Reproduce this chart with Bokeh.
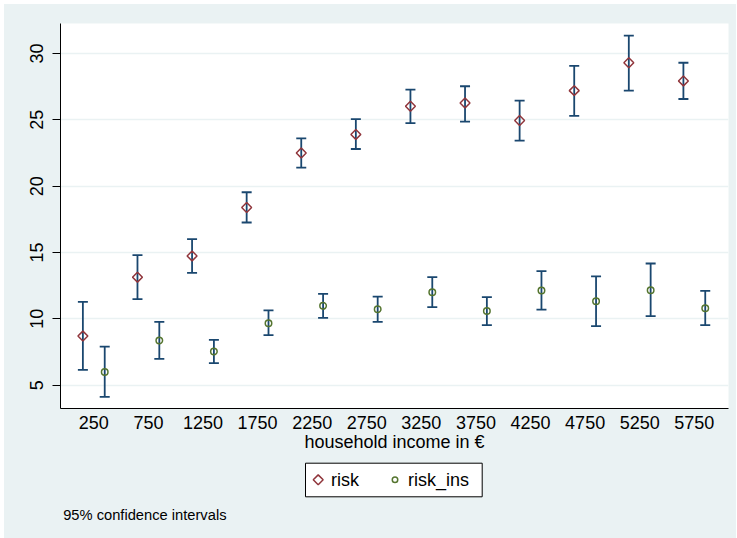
import math
from bokeh.plotting import figure
from bokeh.layouts import column
from bokeh.models import (ColumnDataSource, Range1d, FixedTicker, Legend, LegendItem, Label,
                          BoxAnnotation)
from bokeh.transform import dodge
from bokeh.embed import file_html
from bokeh.resources import INLINE

income = [250, 750, 1250, 1750, 2250, 2750, 3250, 3750, 4250, 4750, 5250, 5750]
risk = [8.7, 13.14, 14.74, 18.39, 22.5, 23.9, 26.02, 26.27, 24.95, 27.2, 29.3, 27.93]
risk_lo = [6.15, 11.48, 13.46, 17.26, 21.4, 22.8, 24.75, 24.87, 23.43, 25.3, 27.2, 26.57]
risk_hi = [11.28, 14.8, 16.0, 19.54, 23.6, 25.05, 27.28, 27.53, 26.45, 29.06, 31.35, 29.3]
risk_ins = [6.0, 8.37, 7.54, 9.67, 10.98, 10.73, 12.0, 10.58, 12.13, 11.33, 12.16, 10.8]
ins_lo = [4.12, 6.98, 6.66, 8.77, 10.07, 9.77, 10.88, 9.52, 10.7, 9.45, 10.2, 9.52]
ins_hi = [7.9, 9.77, 8.41, 10.63, 11.88, 11.68, 13.14, 11.63, 13.59, 13.2, 14.17, 12.1]
y_ticks = [5, 10, 15, 20, 25, 30]

NAVY = "#1a476f"
MAROON = "#90353b"
GREEN = "#55752f"
BG = "#eaf2f3"
FONT = "Liberation Sans"

src = ColumnDataSource(dict(x=income, risk=risk, rlo=risk_lo, rhi=risk_hi,
                            ins=risk_ins, ilo=ins_lo, ihi=ins_hi))

p = figure(width=732, height=456, output_backend="svg", toolbar_location=None,
           x_range=Range1d(-55, 6063), y_range=Range1d(3.24, 32.26),
           min_border_left=56, min_border_right=8, min_border_top=19, min_border_bottom=52)
p.background_fill_color = "white"
p.border_fill_color = BG
p.outline_line_color = None

xr = dodge("x", -100, range=p.x_range)
xi = dodge("x", 100, range=p.x_range)

# error bars
for xs, lo, hi in [(xr, "rlo", "rhi"), (xi, "ilo", "ihi")]:
    p.segment(x0=xs, y0=lo, x1=xs, y1=hi, source=src, line_color=NAVY, line_width=1.8)
    p.scatter(x=xs, y=lo, source=src, marker="dash", size=10, line_color=NAVY, line_width=1.8)
    p.scatter(x=xs, y=hi, source=src, marker="dash", size=10, line_color=NAVY, line_width=1.8)

p.scatter(x=xr, y="risk", source=src, marker="square", angle=math.pi / 4, size=7,
          line_color=MAROON, line_width=1.5, fill_color=None)
p.scatter(x=xi, y="ins", source=src, marker="circle", size=6.5,
          line_color=GREEN, line_width=1.5, fill_color=None)

# axes
p.xaxis.ticker = FixedTicker(ticks=income)
p.yaxis.ticker = FixedTicker(ticks=y_ticks)
p.xgrid.visible = False
p.ygrid.grid_line_color = BG
p.ygrid.grid_line_width = 1.5

for ax in (p.xaxis[0], p.yaxis[0]):
    ax.axis_line_color = "black"
    ax.axis_line_width = 1
    ax.major_label_text_font = FONT
    ax.major_label_text_font_size = "18px"
    ax.major_label_text_color = "black"
    ax.minor_tick_line_color = None
    ax.major_tick_in = 0

p.xaxis.major_tick_out = 0
p.xaxis.major_label_standoff = 7
p.xaxis.axis_label = "household income in €"
p.xaxis.axis_label_text_font = FONT
p.xaxis.axis_label_text_font_size = "18px"
p.xaxis.axis_label_text_font_style = "normal"
p.xaxis.axis_label_text_color = "black"
p.xaxis.axis_label_standoff = 0

p.yaxis.major_tick_out = 8
p.yaxis.major_tick_line_color = "black"
p.yaxis.major_label_orientation = "vertical"
p.yaxis.major_label_standoff = 9

# lower panel (same frame columns as the plot) holding the legend and the note
p2 = figure(width=732, height=78, output_backend="svg", toolbar_location=None,
            x_range=Range1d(0, 668), y_range=Range1d(0, 78),
            x_axis_location=None, y_axis_location=None,
            min_border_left=56, min_border_right=8, min_border_top=0, min_border_bottom=0)
p2.background_fill_color = BG
p2.border_fill_color = BG
p2.outline_line_color = None
p2.grid.visible = False

# legend frame (white box with black border), drawn beneath the keys
p2.add_layout(BoxAnnotation(left=245, right=421.7, bottom=41.7, top=75.3,
                            left_units="screen", right_units="screen",
                            bottom_units="screen", top_units="screen",
                            fill_color="white", fill_alpha=1,
                            line_color="black", line_width=1, line_alpha=1,
                            level="underlay"))

# legend keys, same marker styles as the plot
key_x = [257.7, 334.5]
key_y = [58.7, 58.7]
p2.scatter(x=key_x[:1], y=key_y[:1], marker="square", angle=math.pi / 4, size=7,
           line_color=MAROON, line_width=1.5, fill_color=None)
p2.scatter(x=key_x[1:], y=key_y[1:], marker="circle", size=5.5,
           line_color=GREEN, line_width=1.5, fill_color=None)

# legend labels laid out by a Legend (placeholder glyph slots are transparent)
nan = float("nan")
key_src = ColumnDataSource(dict(x=[nan], y=[nan]))
g1 = p2.scatter(x="x", y="y", source=key_src, marker="circle", line_alpha=0, fill_alpha=0)
g2 = p2.scatter(x="x", y="y", source=key_src, marker="circle", line_alpha=0, fill_alpha=0)

legend = Legend(items=[LegendItem(label="risk", renderers=[g1]),
                       LegendItem(label="risk_ins", renderers=[g2])],
                location=(243, 41.7), orientation="horizontal",
                glyph_width=16, glyph_height=16, label_standoff=7, spacing=26,
                padding=5, margin=0,
                label_text_font=FONT, label_text_font_size="18px", label_text_color="black",
                border_line_alpha=0, background_fill_alpha=0)
p2.add_layout(legend, "center")

note = Label(x=2.7, y=23.4, x_units="screen", y_units="screen",
             text="95% confidence intervals", text_font=FONT, text_font_size="14.7px",
             text_color="black", text_baseline="alphabetic")
p2.add_layout(note)

layout = column(p, p2, spacing=0, margin=(4, 1, 0, 4), styles={"background-color": BG})
open("out.html", "w").write(file_html(layout, INLINE))
